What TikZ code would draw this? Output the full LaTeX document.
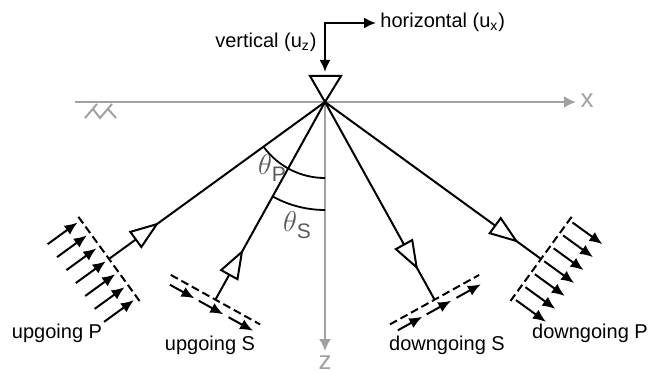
\documentclass[tikz,border=0pt]{standalone}
\usepackage{fontspec}
\setmainfont{Liberation Sans}
\usepackage{xcolor}
\usetikzlibrary{calc, arrows.meta, decorations.markings}

\definecolor{axisgray}{RGB}{160,161,164}
\definecolor{labelgray}{RGB}{90,90,93}

\tikzset{
	ray/.style={line width=1pt},
	raymark/.style={decoration={markings, mark=at position #1 with {\arrow{Triangle[open, fill=white, length=15pt, width=10.5pt]}}}, postaction={decorate}},
	wavefront/.style={line width=1pt, dash pattern=on 4pt off 2pt},
	wavearrow/.style={line width=1pt, -{Latex[length=6.5pt, width=5.5pt]}},
	axisline/.style={axisgray, line width=1pt, -{Latex[length=6pt, width=6pt]}},
	axislabel/.style={axisgray, font=\fontsize{13}{15}\selectfont, inner sep=0pt},
	thetalabel/.style={labelgray, font=\fontsize{15}{17}\selectfont, inner sep=0pt},
	wavelabel/.style={font=\fontsize{10}{12}\selectfont, inner sep=0pt}
}

\begin{document}
\begin{tikzpicture}[x=0.5pt, y=0.5pt]
		\useasboundingbox (0,0) rectangle (656,-373);
		% surface, x and z axes
		\coordinate (O) at (325,-102);
		\coordinate (xl) at (75,-102);
		\coordinate (xr) at (576,-102);
		\coordinate (zb) at (325,-351);
		\draw[axisline] (xl) -- (xr);
		\draw[axisline] (O) -- (zb);
		\node[axislabel] (xlab) at (587,-101) {x};
		\node[axislabel] (zlab) at (325,-363) {z};
		\draw[axisgray, line width=1pt] (85,-118) -- (97,-104) (93,-109) -- (100,-118) -- (112,-104) (108,-109) -- (116,-118);
		% receiver and components
		\draw[line width=1pt] (310,-76) -- (341,-76) -- (O) -- cycle;
		\coordinate (vtip) at (325,-72);
		\coordinate (corner) at (325,-23);
		\coordinate (htip) at (376,-23);
		\draw[line width=1pt, {Latex[length=6pt, width=5.5pt]}-{Latex[length=6pt, width=5.5pt]}] (vtip) -- (corner) -- (htip);
		\node[wavelabel, anchor=west] (hlab) at (380,-22) {horizontal (u\textsubscript{x})};
		\node[wavelabel, anchor=east] (vlab) at (317,-42) {vertical (u\textsubscript{z})};
		% rays
		\coordinate (upP) at ($(O)+(216:266)$);
		\coordinate (upS) at ($(O)+(241:226)$);
		\coordinate (downS) at ($(O)+(299:226)$);
		\coordinate (downP) at ($(O)+(324:266)$);
		\draw[ray, raymark=0.23] (upP) -- (O);
		\draw[ray, raymark=0.255] (upS) -- (O);
		\draw[ray, raymark=0.85] (O) -- (downS);
		\draw[ray, raymark=0.9] (O) -- (downP);
		% angles
		\draw[line width=0.9pt] (O) ++(216:76) arc[start angle=216, end angle=270, radius=76];
		\draw[line width=0.9pt] (O) ++(241:108) arc[start angle=241, end angle=270, radius=108];
		\node[thetalabel] (thP) at (272,-168) {$\theta$\raisebox{-0.45ex}{\fontsize{10.5}{12}\selectfont P}};
		\node[thetalabel] (thS) at (297,-225) {$\theta$\raisebox{-0.45ex}{\fontsize{10.5}{12}\selectfont S}};
		% wavefronts
		\begin{scope}[shift={(upP)}, rotate=216]
			\draw[wavefront] (1,-52) -- (1,52);
			\foreach \s in {-48,-32,-16,0,16,32,48}
				\draw[wavearrow] (42,\s) -- (5,\s);
		\end{scope}
		\begin{scope}[shift={(upS)}, rotate=241]
			\draw[wavefront] (0,-51) -- (0,51);
			\foreach \s in {-47,-14,20}
				\draw[wavearrow] (9,\s) -- (9,\s+28);
		\end{scope}
		\begin{scope}[shift={(downS)}, rotate=299]
			\draw[wavefront] (0,-51) -- (0,51);
			\foreach \s in {-47,-14,20}
				\draw[wavearrow] (9,\s) -- (9,\s+28);
		\end{scope}
		\begin{scope}[shift={(downP)}, rotate=324]
			\draw[wavefront] (1,-52) -- (1,52);
			\foreach \s in {-48,-32,-16,0,16,32,48}
				\draw[wavearrow] (5,\s) -- (42,\s);
		\end{scope}
		\node[wavelabel] (lupP) at (57,-333) {upgoing P};
		\node[wavelabel] (lupS) at (210,-345) {upgoing S};
		\node[wavelabel] (ldownS) at (447,-345) {downgoing S};
		\node[wavelabel] (ldownP) at (590,-333) {downgoing P};
	\end{tikzpicture}
\end{document}
